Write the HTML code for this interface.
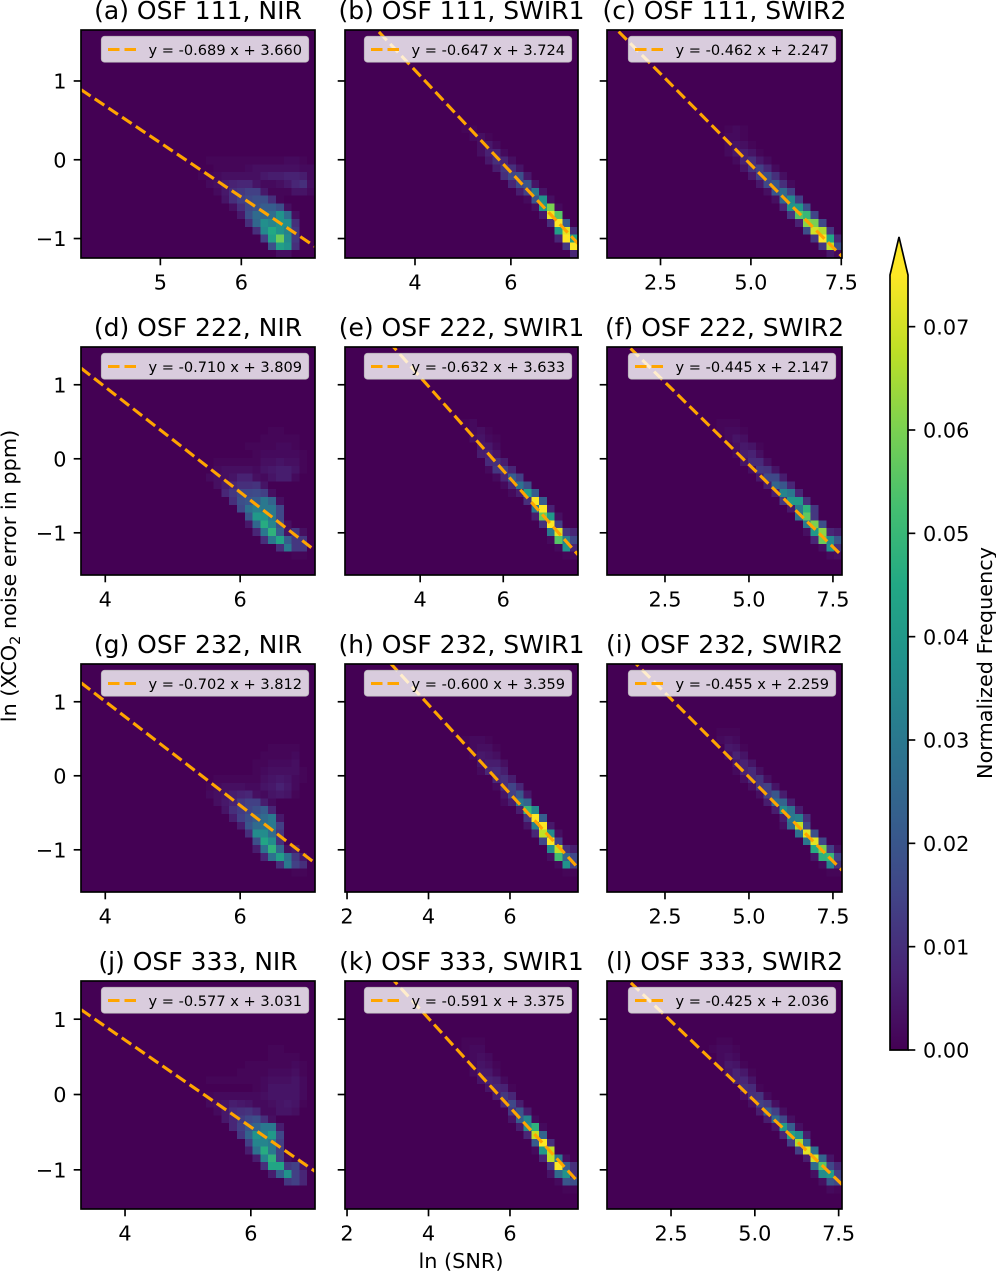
<!DOCTYPE html>
<html lang="en">
<head>
<meta charset="utf-8">
<title>XCO2 noise error versus SNR</title>
<style>
html,body{margin:0;padding:0;background:#fff;}
svg{display:block;font-family:"DejaVu Sans","Liberation Sans",sans-serif;}
</style>
</head>
<body>
<svg id="figure" xmlns="http://www.w3.org/2000/svg" width="996" height="1272" viewBox="0 0 996 1272">
  <defs id="defs"></defs>
  <text transform="translate(16 576) rotate(-90)" text-anchor="middle" font-size="20.8" fill="#000">ln (XCO<tspan font-size="14.5" dy="4">2</tspan><tspan dy="-4"> noise error in ppm)</tspan></text>
  <text x="461" y="1268" text-anchor="middle" font-size="20.8" fill="#000">ln (SNR)</text>
  <text transform="translate(992 663) rotate(-90)" text-anchor="middle" font-size="20.8" fill="#000">Normalized Frequency</text>
</svg>
<script>
// Chart data ---------------------------------------------------------------
const panelTitles = ["(a) OSF 111, NIR","(b) OSF 111, SWIR1","(c) OSF 111, SWIR2","(d) OSF 222, NIR","(e) OSF 222, SWIR1","(f) OSF 222, SWIR2","(g) OSF 232, NIR","(h) OSF 232, SWIR1","(i) OSF 232, SWIR2","(j) OSF 333, NIR","(k) OSF 333, SWIR1","(l) OSF 333, SWIR2"];
const fitSlopes = [-0.689,-0.647,-0.462,-0.710,-0.632,-0.445,-0.702,-0.600,-0.455,-0.577,-0.591,-0.425];
const fitIntercepts = [3.660,3.724,2.247,3.809,3.633,2.147,3.812,3.359,2.259,3.031,3.375,2.036];
const xLimits = [[4.02,6.91],[2.54,7.4],[1.02,7.52],[3.64,7.11],[2.19,7.8],[0.774,7.77],[3.64,7.11],[1.95,7.67],[0.774,7.77],[3.30,7.02],[1.95,7.67],[0.59,7.6]];
const yLimits = [[-1.247,1.647],[-1.247,1.647],[-1.247,1.647],[-1.57,1.51],[-1.57,1.51],[-1.57,1.51],[-1.57,1.51],[-1.57,1.51],[-1.57,1.51],[-1.52,1.507],[-1.52,1.507],[-1.52,1.507]];
const xTickValues = [["5","6"],["4","6"],["2.5","5.0","7.5"],["4","6"],["4","6"],["2.5","5.0","7.5"],["4","6"],["2","4","6"],["2.5","5.0","7.5"],["4","6"],["2","4","6"],["2.5","5.0","7.5"]];
const yTickValues = [-1,0,1];
const colorbarTicks = [0,0.01,0.02,0.03,0.04,0.05,0.06,0.07];
const colorbarMax = 0.075;
const frequencyUnit = 0.001;

// Histograms: each entry is [binRow (from bottom), firstBinColumn, counts...] in units of frequencyUnit
const histA = [
[0,25,3,3],[1,24,18,42,38,10],[2,23,14,42,58,35,12],[3,22,10,35,45,38,33,12],[4,21,10,25,37,34,38,37,10],
[5,20,5,18,26,25,27,38,26,3],[6,19,3,10,16,19,22,22,18,3],[7,18,4,10,14,16,18,18,10,1],
[8,17,2,5,10,12,14,14,5,1,1,1,4,4,2],[9,16,2,3,6,7,8,8,4,2,2,3,5,8,10,3],
[10,15,1,1,2,3,3,3,3,3,5,6,6,7,7,6,2],[11,17,1,1,1,1,2,3,3,3,3,3,3,2,2],[12,16,1,1,1,1,1,1,1,1,1,1,2,2,1]
];
const histB = [
[0,29,8],[1,28,12,75],[2,27,8,75,42],[3,27,42,72,10],[4,26,10,75,22],[5,25,5,73,55],[6,24,3,40,60,2],
[7,23,2,20,38,3],[8,22,6,14,30,4],[9,21,8,16,20,4],[10,20,10,16,18,5],[11,19,6,12,10,4],[12,18,5,10,8,3],
[13,17,3,7,7,2],[14,17,3,5,2],[15,16,2,3,1],[16,15,1,1]
];
const histC = [
[0,28,5,2],[1,27,12,68,18],[2,26,12,75,45,8],[3,25,18,70,66,12],[4,24,7,62,60,16],[5,23,12,55,50,15],
[6,22,8,38,40,18],[7,21,3,25,35,14],[8,20,3,20,26,14],[9,19,5,16,20,10,2],[10,18,5,14,18,10,3],[11,17,4,11,14,8,2],
[12,16,2,7,10,5,2],[13,15,2,5,6,4,1],[14,15,2,4,3,1],[15,15,2,2,1],[16,15,1,2,1]
];
const histD = [
[2,27,1,1],[3,25,10,30,12,12],[4,23,10,30,44,22,12,12],[5,22,8,30,48,22,4,12,3],
[6,21,5,25,46,34,18,3],[7,21,20,40,38,30,16],[8,20,16,28,32,30,30,16],[9,19,10,18,20,22,30,24,3],
[10,18,8,12,16,16,17,14,3],[11,17,3,6,8,10,10,11,4],[12,16,2,3,3,4,7,7,3,2,4,6,6,2],
[13,17,2,3,3,3,3,2,4,5,6,6,4,1],[14,17,1,1,1,1,1,1,3,3,4,3,3,1],[15,22,1,2,2,2,2,2,1],
[16,21,1,1,1,1,2,2,1],[17,23,1,1,1,1,1],[18,24,1,1]
];
const histE = [
[2,28,1,2],[3,27,2,38,8],[4,26,2,55,32,16],[5,26,30,72,12,8],[6,25,10,75,14],[7,24,6,58,40,3],[8,24,30,75,7],
[9,23,10,75,22],[10,21,2,6,42,22],[11,20,2,8,28,18],[12,19,2,8,22,14],[13,18,2,12,14,8],[14,18,9,10,6],
[15,17,6,7,4],[16,17,5,5,2],[17,16,3,4,2,1],[18,16,2,3,1],[19,15,1,2]
];
const histF = [
[2,28,2,3],[3,27,3,38,10],[4,26,8,58,35,20],[5,25,3,40,62,8,6],[6,25,30,60,18],[7,24,28,56,12],[8,23,5,30,48,12],
[9,22,12,40,40,10],[10,21,6,34,30,8],[11,20,6,24,20,8],[12,19,5,16,16,6],[13,18,3,12,11,4],[14,17,4,9,9,3],
[15,16,2,6,7,3],[16,16,3,5,4,1],[17,15,2,4,3],[18,14,1,2,2,1],[19,14,1,1,1]
];
const histG = [
[2,27,1,1],[3,25,10,30,14,10],[4,23,8,28,42,28,12,5],[5,22,6,28,48,25,3,5],
[6,22,18,44,36,10],[7,21,10,36,36,26,12],[8,20,6,20,26,28,30,14],[9,19,6,14,18,22,26,30,5],
[10,18,4,10,13,15,18,22,8],[11,17,3,5,7,12,14,14,6,2],[12,16,2,3,4,6,7,8,3,2,4,5,4,1],
[13,16,1,2,3,3,3,2,2,4,5,7,5,2],[14,17,1,1,1,1,1,1,3,4,5,4,2,1],[15,22,1,2,3,3,3,3,1],[16,22,1,1,2,2,2,3],
[17,23,1,1,1,1,2],[18,24,1,1,1,1]
];
const histH = [
[2,28,1,1],[3,27,2,38,14],[4,26,3,52,24,16],[5,26,36,68,10,6],[6,25,16,75,14],[7,24,8,68,36,3],[8,23,4,32,75,5],
[9,23,12,75,22],[10,22,6,50,35],[11,20,2,6,30,24],[12,20,4,14,20,5],[13,19,2,10,15,8],[14,19,8,10,6],
[15,17,2,8,9,6],[16,17,4,6,6,3],[17,16,2,5,4,3],[18,16,2,3,3,1],[19,15,1,2,2,1]
];
const histI = [
[2,28,1,1],[3,27,2,34,10],[4,26,4,48,50,14],[5,26,46,60,14,3],[6,25,30,72,16],[7,24,28,72,18],[8,22,3,26,68,16],
[9,22,6,30,32,10],[10,21,6,36,28,6],[11,20,6,26,24,6],[12,19,3,14,20,6],[13,18,3,12,14,4],[14,17,3,9,11,3],
[15,16,2,7,9,3],[16,16,5,7,4],[17,15,3,7,4],[18,15,5,4,1],[19,14,2,3,2],[20,14,1,1,1]
];
const histJ = [
[3,26,12,14,8],[4,24,6,22,38,14,8],[5,23,10,44,44,12,14,4],[6,22,6,34,48,14,2],[7,21,6,28,46,30,14],
[8,21,14,34,34,30,14],[9,20,12,24,38,32,40,16],[10,19,8,14,20,24,30,30,6],[11,18,5,8,13,16,18,10,3],
[12,17,2,5,9,10,11,8,2,2,4,4,3],[13,16,2,3,4,6,5,4,2,2,3,4,5,4,1],[14,16,1,2,2,2,2,2,2,3,4,4,4,4,2],
[15,22,1,2,4,4,4,4,2],[16,16,1,1,1,1,1,1,1,2,3,3,3,4,2],[17,20,1,1,1,1,2,2,2,3,1],[18,21,1,1,1,1,1,1,2,1],
[19,24,1,1,1,1],[20,24,1,1]
];
const histK = [
[2,28,1,1],[3,27,2,20,18],[4,26,4,26,38,10],[5,26,12,75,22,10],[6,25,8,68,30,3],[7,24,2,40,68],[8,24,22,75,10],
[9,23,8,68,24],[10,22,6,36,48,2],[11,21,4,22,34,2],[12,21,12,20,6],[13,20,8,16,6],[14,19,6,12,8],
[15,18,4,8,7,1],[16,17,4,7,6,2],[17,16,2,5,5,2],[18,16,2,4,3,1],[19,15,1,2,3,2],[20,15,1,2,2],[21,15,1,1,1]
];
const histL = [
[2,28,2,1],[3,27,3,20,16],[4,26,3,36,40,14],[5,26,26,55,16,8],[6,25,6,70,24,4],[7,24,14,72,28],[8,23,14,66,26],
[9,22,8,42,36,6],[10,21,4,40,22,3],[11,20,6,26,16,3],[12,19,6,22,14,3],[13,18,3,14,12,3],[14,17,3,10,11,2],
[15,17,10,9,1],[16,16,7,8,4],[17,15,4,7,5,1],[18,14,2,5,4,1],[19,14,2,3,2],[20,13,1,2,2,1],[21,14,1,1]
];
const histograms = [histA,histB,histC,histD,histE,histF,histG,histH,histI,histJ,histK,histL];
const panelKeys = ["a","b","c","d","e","f","g","h","i","j","k","l"];

// Layout -------------------------------------------------------------------
const NS = "http://www.w3.org/2000/svg";
const svg = document.getElementById("figure");
const defs = document.getElementById("defs");
const columnEdges = [[81,315],[345,578],[607,842]];
const rowEdges = [[30,258],[347,575],[664,892],[981,1209]];
const binCount = 30;
const binHeight = 7.8;
const viridis = ["#440154","#482475","#414487","#355f8d","#2a788e","#21918c","#22a884","#44bf70","#7ad151","#bddf26","#fde725"];

function hexToRgb(h){return [1,3,5].map(function(i){return parseInt(h.substr(i,2),16);});}
function colorFor(v){
  var t=Math.max(0,Math.min(1,v/colorbarMax))*(viridis.length-1);
  var i=Math.min(viridis.length-2,Math.floor(t)),f=t-i;
  var a=hexToRgb(viridis[i]),b=hexToRgb(viridis[i+1]);
  return "rgb("+a.map(function(c,k){return Math.round(c+(b[k]-c)*f);}).join(",")+")";
}
function make(tag,attrs,parent,text){
  var n=document.createElementNS(NS,tag);
  for(var k in attrs){n.setAttribute(k,attrs[k]);}
  if(text!==undefined){n.textContent=text;}
  parent.appendChild(n);
  return n;
}
function fmtTick(v){return v<0?"\u2212"+Math.abs(v):String(v);}

panelTitles.forEach(function(title,p){
  var col=p%3,row=Math.floor(p/3);
  var x0=columnEdges[col][0],x1=columnEdges[col][1],y0=rowEdges[row][0],y1=rowEdges[row][1];
  var xl=xLimits[p],yl=yLimits[p];
  function xScale(v){return x0+(v-xl[0])/(xl[1]-xl[0])*(x1-x0);}
  function yScale(v){return y1-(v-yl[0])/(yl[1]-yl[0])*(y1-y0);}

  var g=make("g",{},svg);
  
  

  var clip=make("clipPath",{id:"clip-"+p},defs);
  make("rect",{x:x0,y:y0,width:x1-x0,height:y1-y0},clip);

  var bg=make("rect",{x:x0,y:y0,width:x1-x0,height:y1-y0,fill:viridis[0]},g);
  
  

  var heat=make("g",{"clip-path":"url(#clip-"+p+")","shape-rendering":"crispEdges"},g);
  
  
  var binWidth=(x1-x0)/binCount;
  histograms[p].forEach(function(entry){
    for(var i=2;i<entry.length;i++){
      var colIdx=entry[1]+i-2;
      var v=entry[i]*frequencyUnit;
      var cell=make("rect",{x:(x0+colIdx*binWidth).toFixed(2),y:(y1-(entry[0]+1)*binHeight).toFixed(2),width:binWidth.toFixed(2),height:binHeight,fill:colorFor(v)},heat);
      
      
    }
  });

  var slope=fitSlopes[p],icpt=fitIntercepts[p];
  var fit=make("line",{x1:xScale(xl[0]),y1:yScale(slope*xl[0]+icpt),x2:xScale(xl[1]),y2:yScale(slope*xl[1]+icpt),stroke:"#ffa500","stroke-width":3.1,"stroke-dasharray":"11.5 5","clip-path":"url(#clip-"+p+")"},g);
  
  

  var lg=make("g",{},g);
  
  
  var lx=x1-214,ly=y0+7;
  var box=make("rect",{x:lx+.5,y:ly-.5,width:207,height:25.5,rx:3,ry:3,fill:"#fff","fill-opacity":.8,stroke:"#ccc","stroke-opacity":.8,"stroke-width":1.2},lg);
  
  
  var sw=make("line",{x1:lx+7,y1:ly+12.5,x2:lx+36,y2:ly+12.5,stroke:"#ffa500","stroke-width":3.1,"stroke-dasharray":"11.5 5"},lg);
  
  
  var label="y = "+slope.toFixed(3)+" x + "+icpt.toFixed(3);
  var lt=make("text",{x:lx+47.5,y:ly+18,"font-size":14.58,fill:"#000"},lg,label);
  
  

  var frame=make("rect",{x:x0,y:y0,width:x1-x0,height:y1-y0,fill:"none",stroke:"#000","stroke-width":1.67},g);
  
  

  var ttl=make("text",{x:(x0+x1)/2,y:y0-11,"text-anchor":"middle","font-size":25,fill:"#000"},g,title);
  
  

  xTickValues[p].forEach(function(lbl){
    var px=xScale(parseFloat(lbl));
    var tick=make("line",{x1:px,y1:y1,x2:px,y2:y1+7.3,stroke:"#000","stroke-width":1.67},g);
    
    
    var tl=make("text",{x:px,y:y1+31.5,"text-anchor":"middle","font-size":20.8,fill:"#000"},g,lbl);
    
    
  });

  yTickValues.forEach(function(v){
    var py=yScale(v);
    var tick=make("line",{x1:x0-7.3,y1:py,x2:x0,y2:py,stroke:"#000","stroke-width":1.67},g);
    
    
    if(col===0){
      var tl=make("text",{x:x0-14.5,y:py+7.6,"text-anchor":"end","font-size":20.8,fill:"#000"},g,fmtTick(v));
      
      
    }
  });
});

// Colorbar -----------------------------------------------------------------
var cbX0=890,cbX1=908,cbBottom=1050,cbTop=275,cbTip=237;
function cbScale(v){return cbBottom-v/colorbarMax*(cbBottom-cbTop);}
var grad=make("linearGradient",{id:"viridis-gradient",x1:0,y1:1,x2:0,y2:0},defs);
viridis.forEach(function(c,i){make("stop",{offset:i/(viridis.length-1),"stop-color":c},grad);});
var cb=make("g",{},svg);


var ramp=make("rect",{x:cbX0,y:cbTop,width:cbX1-cbX0,height:cbBottom-cbTop,fill:"url(#viridis-gradient)"},cb);


var ext=make("polygon",{points:cbX0+","+cbTop+" "+(cbX0+cbX1)/2+","+cbTip+" "+cbX1+","+cbTop,fill:viridis[viridis.length-1]},cb);


var outline=make("polygon",{points:cbX0+","+cbBottom+" "+cbX1+","+cbBottom+" "+cbX1+","+cbTop+" "+(cbX0+cbX1)/2+","+cbTip+" "+cbX0+","+cbTop,fill:"none",stroke:"#000","stroke-width":1.67},cb);


colorbarTicks.forEach(function(v){
  var py=cbScale(v);
  var t=make("line",{x1:cbX1,y1:py,x2:cbX1+7.3,y2:py,stroke:"#000","stroke-width":1.67},cb);
  
  
  var l=make("text",{x:cbX1+15,y:py+7.6,"font-size":20.8,fill:"#000"},cb,v.toFixed(2));
  
  
});
</script>
</body>
</html>
